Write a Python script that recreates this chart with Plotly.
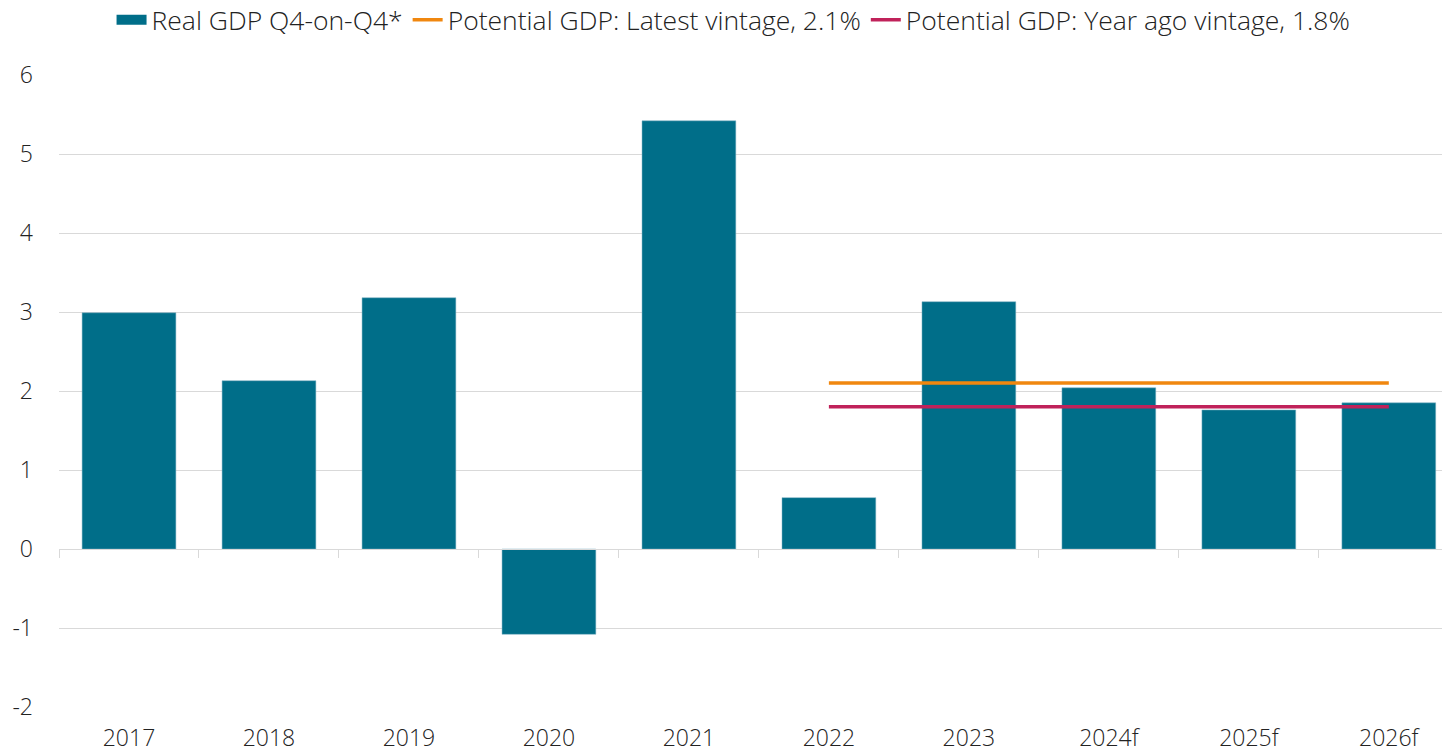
import plotly.graph_objects as go

categories = ["2017", "2018", "2019", "2020", "2021", "2022", "2023", "2024f", "2025f", "2026f"]
real_gdp = [2.99, 2.13, 3.18, -1.08, 5.42, 0.65, 3.13, 2.04, 1.76, 1.85]
line_categories = ["2022", "2023", "2024f", "2025f", "2026f"]
potential_latest = [2.1, 2.1, 2.1, 2.1, 2.1]
potential_year_ago = [1.8, 1.8, 1.8, 1.8, 1.8]
y_ticks = [-2, -1, 0, 1, 2, 3, 4, 5, 6]
y_ticktext = ["-2", "-1", "0", "1", "2", "3", "4", "5", "6"]

FAMILY = "Open Sans, Roboto, Arial, sans-serif"
AXFONT = dict(family=FAMILY, size=23, color="#222222", weight=300)
LEGFONT = dict(family=FAMILY, size=26.5, color="#222222", weight=300)
GRID = "#d9d9d9"
TEAL = "#006e89"
XRANGE = [-0.5, 9.38]

fig = go.Figure()
fig.add_trace(go.Bar(
    x=categories, y=real_gdp, name="Real GDP Q4-on-Q4*", showlegend=False,
    marker=dict(color=TEAL, line=dict(color="#7fb3c4", width=0.5)),
))
# legend entry for the bar series, drawn as a wide swatch
fig.add_trace(go.Scatter(
    x=[None], y=[None], mode="lines", name="Real GDP Q4-on-Q4*",
    line=dict(color=TEAL, width=15), hoverinfo="skip",
))
fig.add_trace(go.Scatter(
    x=line_categories, y=potential_latest, mode="lines",
    name="Potential GDP: Latest vintage, 2.1%",
    line=dict(color="#f0870f", width=3.5), xaxis="x2",
))
fig.add_trace(go.Scatter(
    x=line_categories, y=potential_year_ago, mode="lines",
    name="Potential GDP: Year ago vintage, 1.8%",
    line=dict(color="#c0225a", width=3.5), xaxis="x2",
))

fig.update_layout(
    width=1442, height=753,
    margin=dict(l=59, r=0, t=75, b=46, autoexpand=False),
    paper_bgcolor="white", plot_bgcolor="white",
    font=AXFONT,
    bargap=0.33,
    showlegend=True,
    legend=dict(orientation="h", x=0.038, xref="paper", y=1.087, yref="paper",
                xanchor="left", yanchor="middle", font=LEGFONT,
                itemwidth=30, tracegroupgap=0, bgcolor="rgba(0,0,0,0)"),
    xaxis=dict(type="category", categoryorder="array", categoryarray=categories,
               range=XRANGE, showgrid=False, showline=False, ticks="outside",
               ticklen=10, tickcolor="rgba(0,0,0,0)", tickson="labels",
               tickfont=AXFONT, zeroline=False, automargin=False),
    xaxis2=dict(type="category", categoryorder="array", categoryarray=categories,
                range=XRANGE, overlaying="x", anchor="free", position=0.25,
                showgrid=False, showline=True, linecolor=GRID, linewidth=1,
                ticks="outside", ticklen=8, tickcolor=GRID, tickwidth=1,
                tickson="boundaries", showticklabels=False, zeroline=False,
                automargin=False),
    yaxis=dict(range=[-2, 6], tickvals=y_ticks, ticktext=y_ticktext,
               showgrid=True, gridcolor=GRID,
               gridwidth=1, zeroline=True, zerolinecolor=GRID, zerolinewidth=1,
               showline=False, ticks="", tickfont=AXFONT, ticklabelstandoff=25,
               automargin=False),
)

fig.write_html("out.html", config={"displayModeBar": False},
               post_script="document.body.style.margin='0';document.body.style.overflow='hidden';")
